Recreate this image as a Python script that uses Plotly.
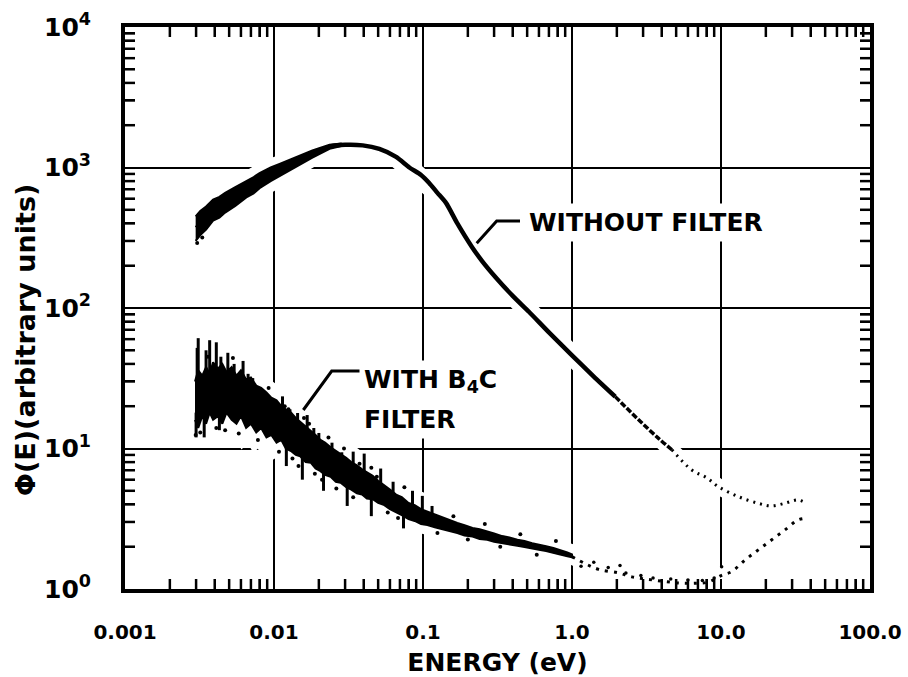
import plotly.graph_objects as go

# ---------------- data ----------------
x_label_alias = {"1": "1.0", "10": "10.0", "100": "100.0"}
y_label_alias = {"1": "10<sup>0</sup>", "10": "10<sup>1</sup>"}

# --- spectrum without filter ---
wf_E = [0.00302, 0.0035, 0.0039, 0.0047, 0.0055, 0.00652, 0.008, 0.0095, 0.0109, 0.0135,
        0.0181, 0.0236, 0.030, 0.0394, 0.0509, 0.066, 0.081, 0.097, 0.11, 0.125, 0.143,
        0.17, 0.213, 0.25, 0.308, 0.40, 0.514, 0.70, 1.0, 1.4, 1.95]
wf_phi = [371, 440, 499, 560, 620, 703, 810, 900, 955, 1080,
          1248, 1407, 1450, 1437, 1355, 1190, 1000, 885, 776, 660, 558,
          400, 272, 215, 165, 122, 94, 67, 46, 32.5, 23.4]
# noisy (thick) low-energy part: lower / upper envelope
wf_band_E = [0.00298, 0.0032, 0.0035, 0.0039, 0.0043, 0.0047, 0.0055, 0.00652, 0.0073, 0.008,
             0.0095, 0.0109, 0.0135, 0.0181, 0.0236, 0.0280]
wf_band_lo = [300, 330, 362, 418, 440, 478, 532, 612, 655, 712,
              800, 862, 990, 1175, 1360, 1420]
wf_band_hi = [448, 490, 528, 592, 618, 660, 726, 800, 855, 912,
              1000, 1060, 1165, 1320, 1450, 1480]
wf_dots_E = [0.00305, 0.0033]
wf_dots_phi = [290, 318]
# dashed / dotted high-energy tail
wf_mid_E = [1.95, 2.8, 3.81, 4.68]
wf_mid_phi = [23.4, 16.0, 11.8, 9.8]
wf_tail_E = [4.68, 6.37, 8.0, 9.6, 13.1, 17.8, 21.8, 26.8, 32.9, 37.4]
wf_tail_phi = [9.8, 7.03, 6.2, 5.35, 4.54, 4.07, 3.9, 4.07, 4.3, 4.07]

# --- spectrum with B4C filter ---
b4c_E = [0.00295, 0.0031, 0.0033, 0.0035, 0.0037, 0.0039, 0.0042, 0.0045, 0.0048, 0.0052,
         0.0056, 0.006, 0.0065, 0.007, 0.0076, 0.0082, 0.0089, 0.0096, 0.0104, 0.0112,
         0.012, 0.013, 0.014, 0.015, 0.0163, 0.0177, 0.019, 0.0205, 0.022, 0.024,
         0.026, 0.028, 0.0305, 0.033, 0.036, 0.039, 0.042, 0.046, 0.05, 0.055,
         0.06, 0.066, 0.072, 0.08, 0.088, 0.097, 0.107, 0.12, 0.135, 0.15,
         0.17, 0.19, 0.215, 0.24, 0.27, 0.30, 0.34, 0.38, 0.43, 0.48,
         0.54, 0.60, 0.67, 0.75, 0.84, 0.93, 1.0]
b4c_lo = [16, 14, 17, 15, 18, 16, 17, 15, 18, 16,
          15, 17, 14, 15, 13, 14, 12, 12.5, 11, 11.5,
          10, 9.6, 9.0, 8.8, 8.0, 7.9, 7.2, 6.9, 6.5, 6.3,
          5.8, 5.7, 5.3, 5.1, 4.8, 4.7, 4.4, 4.35, 4.1, 3.95,
          3.7, 3.5, 3.35, 3.15, 3.05, 2.9, 2.85, 2.75, 2.65, 2.58,
          2.5, 2.4, 2.36, 2.27, 2.24, 2.17, 2.12, 2.07, 2.03, 1.99,
          1.95, 1.9, 1.86, 1.8, 1.76, 1.71, 1.68]
b4c_hi = [30, 36, 33, 38, 34, 41, 37, 40, 35, 38,
          33, 36, 31, 32, 28, 27, 25, 23, 22, 20,
          19, 18, 16.5, 15.5, 14.5, 13.5, 12.5, 11.5, 11.0, 10.2,
          9.6, 9.2, 8.6, 8.0, 7.6, 7.1, 6.8, 6.4, 5.9, 5.5,
          5.1, 4.7, 4.5, 4.1, 3.95, 3.7, 3.55, 3.4, 3.25, 3.1,
          2.95, 2.85, 2.72, 2.66, 2.55, 2.48, 2.38, 2.33, 2.24, 2.2,
          2.12, 2.08, 2.02, 1.96, 1.89, 1.82, 1.76]
# isolated noise spikes (vertical streaks)
spike_E = [0.00305, 0.0031, 0.0035, 0.0037, 0.0041, 0.0044, 0.0049, 0.0054, 0.0062, 0.0067,
           0.0072, 0.0083, 0.0102, 0.0114, 0.0128, 0.0144, 0.0167, 0.0185, 0.020, 0.0245,
           0.0285, 0.034, 0.0403, 0.052, 0.063, 0.085, 0.099, 0.115,
           0.0030, 0.0034, 0.0043, 0.0121, 0.0155, 0.0215, 0.031, 0.045, 0.074]
spike_lo = [25, 28, 30, 30, 32, 30, 30, 30, 28, 27,
            25, 22, 18, 17, 15, 13, 12, 11, 10, 9,
            8, 7, 6, 5, 4.5, 3.8, 3.6, 3.3,
            12, 12, 13.5, 7.5, 6.0, 5.0, 3.9, 3.3, 2.7]
spike_hi = [52, 61, 50, 59, 57, 45, 48, 40, 42, 34,
            31.7, 25, 21, 23.5, 19, 17.9, 17.3, 14, 12.9, 11,
            9.4, 9.5, 9.2, 7.2, 5.8, 5.0, 4.6, 3.9,
            18, 18, 19, 11, 9, 8, 6, 5, 4]
b4c_dots_E = [0.00298, 0.0032, 0.0036, 0.0041, 0.0047, 0.0053, 0.0058, 0.0068, 0.0078, 0.0092,
              0.0108, 0.0125, 0.0146, 0.0172, 0.021, 0.027, 0.034, 0.045, 0.058, 0.075,
              0.095, 0.125, 0.16, 0.20, 0.26, 0.33, 0.45, 0.58, 0.78,
              0.0118, 0.0133, 0.0159, 0.0188, 0.0232, 0.0262, 0.0295, 0.0375, 0.049, 0.068]
b4c_dots_phi = [12.5, 13, 45, 14, 13.5, 44, 12.8, 30, 11.5, 27,
                9.5, 19, 7.5, 15, 6.0, 8.5, 4.5, 7.3, 3.5, 5.3,
                3.6, 2.5, 3.3, 2.25, 2.9, 2.0, 2.45, 1.75, 2.2,
                20, 8.5, 16.5, 6.6, 12, 5.2, 10, 7.8, 6.3, 3.2]
b4c_tail_E = [1.0, 1.25, 1.51, 2.06, 2.52, 3.27, 4.23, 5.4, 6.8, 8.2,
              10.1, 11.8, 14.5, 17.8, 21.8, 26.8, 32.9, 37.4]
b4c_tail_phi = [1.7, 1.5, 1.38, 1.3, 1.22, 1.17, 1.13, 1.1, 1.1, 1.12,
                1.25, 1.33, 1.61, 1.9, 2.23, 2.63, 3.1, 3.19]
b4c_tail_dots_E = [1.15, 1.4, 1.75, 2.1, 2.3, 2.9, 3.5, 4.6, 6.0, 7.5, 9.0, 10.1]
b4c_tail_dots_phi = [1.45, 1.55, 1.42, 1.47, 1.3, 1.25, 1.2, 1.18, 1.16, 1.15, 1.2, 1.44]

# ---------------- figure ----------------
FONT = "DejaVu Sans"
BLACK = "black"
WHITE = "white"

L, R, T, B = 125, 38, 27, 88
PW, PH = 908 - L - R, 677 - T - B
TICKLEN = 10
X_RANGE = [-3, 2]
Y_RANGE = [0, 4]


def px(xp):
    return (xp - L) / PW


def py(yp):
    return (677 - B - yp) / PH


def band_xy(E, lo, hi):
    return list(E) + list(E[::-1]), list(hi) + list(lo[::-1])


def segs(E, lo, hi):
    xs, ys = [], []
    for e, a, b in zip(E, lo, hi):
        xs += [e, e, None]
        ys += [a, b, None]
    return xs, ys


fig = go.Figure()
wbx, wby = band_xy(wf_band_E, wf_band_lo, wf_band_hi)
bbx, bby = band_xy(b4c_E, b4c_lo, b4c_hi)
sx, sy = segs(spike_E, spike_lo, spike_hi)

# white halos (break the grid lines around the curves)
halo = dict(mode="lines", hoverinfo="skip", showlegend=False)
fig.add_trace(go.Scatter(x=wbx, y=wby, fill="toself", fillcolor=WHITE, line=dict(color=WHITE, width=18), **halo))
fig.add_trace(go.Scatter(x=wf_E, y=wf_phi, line=dict(color=WHITE, width=20), **halo))
fig.add_trace(go.Scatter(x=wf_mid_E + wf_tail_E, y=wf_mid_phi + wf_tail_phi, line=dict(color=WHITE, width=16), **halo))
fig.add_trace(go.Scatter(x=bbx, y=bby, fill="toself", fillcolor=WHITE, line=dict(color=WHITE, width=26), **halo))
fig.add_trace(go.Scatter(x=sx, y=sy, line=dict(color=WHITE, width=14), **halo))
fig.add_trace(go.Scatter(x=b4c_tail_E, y=b4c_tail_phi, line=dict(color=WHITE, width=16), **halo))

# without filter
fig.add_trace(go.Scatter(x=wbx, y=wby, fill="toself", fillcolor=BLACK, line=dict(color=BLACK, width=2), **halo))
fig.add_trace(go.Scatter(x=wf_E, y=wf_phi, line=dict(color=BLACK, width=4.5, shape="spline", smoothing=0.6), **halo))
fig.add_trace(go.Scatter(x=wf_dots_E, y=wf_dots_phi, mode="markers", marker=dict(color=BLACK, size=4),
                         hoverinfo="skip", showlegend=False))
fig.add_trace(go.Scatter(x=wf_mid_E, y=wf_mid_phi, line=dict(color=BLACK, width=3.5, dash="6px,2px", shape="spline"), **halo))
fig.add_trace(go.Scatter(x=wf_tail_E, y=wf_tail_phi, line=dict(color=BLACK, width=3, dash="2px,5px", shape="spline"), **halo))

# with B4C filter
fig.add_trace(go.Scatter(x=bbx, y=bby, fill="toself", fillcolor=BLACK, line=dict(color=BLACK, width=2), **halo))
fig.add_trace(go.Scatter(x=sx, y=sy, line=dict(color=BLACK, width=3), **halo))
fig.add_trace(go.Scatter(x=b4c_dots_E, y=b4c_dots_phi, mode="markers", marker=dict(color=BLACK, size=4),
                         hoverinfo="skip", showlegend=False))
fig.add_trace(go.Scatter(x=b4c_tail_E, y=b4c_tail_phi, line=dict(color=BLACK, width=3, dash="3px,6px", shape="spline"), **halo))
fig.add_trace(go.Scatter(x=b4c_tail_dots_E, y=b4c_tail_dots_phi, mode="markers", marker=dict(color=BLACK, size=3.5),
                         hoverinfo="skip", showlegend=False))

# minor (2..9) tick marks, inside, on all four sides of the frame (backup for the axis minor ticks)
x_minor = [m * 10 ** k for k in range(-3, 2) for m in range(2, 10)]
y_minor = [m * 10 ** k for k in range(0, 4) for m in range(2, 10)]
dy = TICKLEN / PH * (Y_RANGE[1] - Y_RANGE[0])   # tick length in decades
dx = TICKLEN / PW * (X_RANGE[1] - X_RANGE[0])
tx, ty = [], []
for v in x_minor:
    tx += [v, v, None, v, v, None]
    ty += [10 ** Y_RANGE[0], 10 ** (Y_RANGE[0] + dy), None, 10 ** (Y_RANGE[1] - dy), 10 ** Y_RANGE[1], None]
for v in y_minor:
    tx += [10 ** X_RANGE[0], 10 ** (X_RANGE[0] + dx), None, 10 ** (X_RANGE[1] - dx), 10 ** X_RANGE[1], None]
    ty += [v, v, None, v, v, None]
fig.add_trace(go.Scatter(x=tx, y=ty, mode="lines", line=dict(color=BLACK, width=2.5),
                         hoverinfo="skip", showlegend=False))

minor = dict(dtick="D1", ticks="inside", ticklen=TICKLEN, tickwidth=2, tickcolor=BLACK, showgrid=False)
axis_common = dict(
    type="log", showgrid=True, gridcolor=BLACK, gridwidth=2,
    showline=True, linecolor=BLACK, linewidth=4, mirror="allticks",
    ticks="inside", ticklen=TICKLEN, tickwidth=2, tickcolor=BLACK,
    dtick=1, zeroline=False, minor=minor, automargin=False,
    tickfont=dict(family=FONT, size=20, color=BLACK, weight="bold"),
)

fig.update_xaxes(
    **axis_common, range=X_RANGE, exponentformat="none", labelalias=x_label_alias,
    ticklabelstandoff=22,
    title=dict(text="ENERGY (eV)", font=dict(family=FONT, size=25, color=BLACK, weight="bold"), standoff=12),
)
fig.update_yaxes(
    **axis_common, range=Y_RANGE, exponentformat="power", labelalias=y_label_alias,
    ticklabelstandoff=26,
)

# y-axis title (placed as in the reference, slightly below the plot centre)
fig.add_annotation(x=px(25), y=py(340), xref="paper", yref="paper", text="Φ(E)(arbitrary units)",
                   textangle=-90, showarrow=False, xanchor="center", yanchor="middle",
                   font=dict(family=FONT, size=27, color=BLACK, weight="bold"))

ann_font = dict(family=FONT, size=25, color=BLACK, weight="bold")
fig.add_annotation(x=px(524), y=py(222), xref="paper", yref="paper", text="WITHOUT FILTER",
                   showarrow=False, xanchor="left", yanchor="middle", font=ann_font,
                   bgcolor=WHITE, borderpad=4)
fig.add_annotation(x=px(359), y=py(381), xref="paper", yref="paper", text="WITH B<sub>4</sub>C",
                   showarrow=False, xanchor="left", yanchor="middle", font=ann_font,
                   bgcolor=WHITE, borderpad=4)
fig.add_annotation(x=px(359), y=py(419), xref="paper", yref="paper", text="FILTER",
                   showarrow=False, xanchor="left", yanchor="middle", font=ann_font,
                   bgcolor=WHITE, borderpad=4)

fig.add_shape(type="path", xref="paper", yref="paper",
              path=f"M {px(520)},{py(221)} L {px(496.7)},{py(221)} L {px(476.7)},{py(243.3)}",
              line=dict(color=BLACK, width=3))
fig.add_shape(type="path", xref="paper", yref="paper",
              path=f"M {px(360)},{py(371)} L {px(331.7)},{py(371)} L {px(303.3)},{py(410)}",
              line=dict(color=BLACK, width=3))

fig.update_layout(
    width=908, height=677,
    margin=dict(l=L, r=R, t=T, b=B, autoexpand=False),
    paper_bgcolor=WHITE, plot_bgcolor=WHITE,
    showlegend=False,
    font=dict(family=FONT, color=BLACK),
)

fig.write_html("out.html")
